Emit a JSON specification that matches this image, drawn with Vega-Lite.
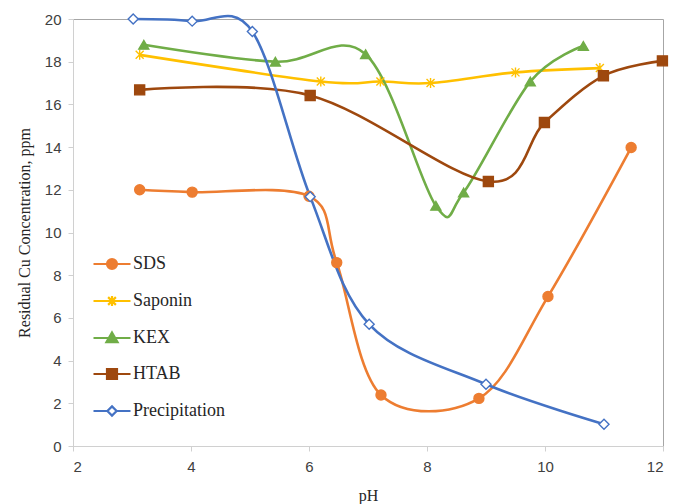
{
  "$schema": "https://vega.github.io/schema/vega-lite/v6.json",
  "autosize": {"type": "none"},
  "padding": {"left": 73, "top": 19, "right": 12, "bottom": 58},
  "width": 590,
  "height": 427,
  "background": "white",
  "config": {
    "view": {"stroke": "#a6a6a6", "strokeWidth": 1},
    "axis": {
      "grid": false,
      "domainColor": "#d0d0d0",
      "tickColor": "#d0d0d0",
      "tickSize": 5,
      "labelFont": "Liberation Sans",
      "labelFontSize": 15,
      "labelColor": "#404040",
      "titleFont": "Liberation Serif",
      "titleFontSize": 16,
      "titleFontWeight": "normal",
      "titleColor": "#262626"
    },
    "legend": {
      "labelFont": "Liberation Serif, serif",
      "labelFontSize": 18,
      "labelColor": "#262626",
      "rowPadding": 7,
      "labelOffset": 1,
      "padding": 0,
      "symbolSize": 1369,
      "symbolStrokeWidth": 2.2
    }
  },
  "data": {
    "values": [
      {"series": "SDS", "pH": 3.13, "conc": 12.0},
      {"series": "SDS", "pH": 4.02, "conc": 11.89},
      {"series": "SDS", "pH": 6.0, "conc": 11.7},
      {"series": "SDS", "pH": 6.47, "conc": 8.59},
      {"series": "SDS", "pH": 7.22, "conc": 2.39},
      {"series": "SDS", "pH": 8.88, "conc": 2.23},
      {"series": "SDS", "pH": 10.05, "conc": 7.0},
      {"series": "SDS", "pH": 11.46, "conc": 13.98},
      {"series": "Saponin", "pH": 3.13, "conc": 18.32},
      {"series": "Saponin", "pH": 6.2, "conc": 17.07},
      {"series": "Saponin", "pH": 7.21, "conc": 17.07},
      {"series": "Saponin", "pH": 8.06, "conc": 17.0},
      {"series": "Saponin", "pH": 9.5, "conc": 17.5},
      {"series": "Saponin", "pH": 10.93, "conc": 17.7},
      {"series": "KEX", "pH": 3.2, "conc": 18.79},
      {"series": "KEX", "pH": 5.43, "conc": 18.0},
      {"series": "KEX", "pH": 6.96, "conc": 18.35},
      {"series": "KEX", "pH": 8.15, "conc": 11.25},
      {"series": "KEX", "pH": 8.62, "conc": 11.87},
      {"series": "KEX", "pH": 9.75, "conc": 17.07},
      {"series": "KEX", "pH": 10.65, "conc": 18.74},
      {"series": "HTAB", "pH": 3.13, "conc": 16.68},
      {"series": "HTAB", "pH": 6.02, "conc": 16.42},
      {"series": "HTAB", "pH": 9.04, "conc": 12.39},
      {"series": "HTAB", "pH": 9.99, "conc": 15.15},
      {"series": "HTAB", "pH": 10.99, "conc": 17.34},
      {"series": "HTAB", "pH": 11.99, "conc": 18.04},
      {"series": "Precipitation", "pH": 3.02, "conc": 20.0},
      {"series": "Precipitation", "pH": 4.02, "conc": 19.9},
      {"series": "Precipitation", "pH": 5.04, "conc": 19.41},
      {"series": "Precipitation", "pH": 6.02, "conc": 11.68},
      {"series": "Precipitation", "pH": 7.02, "conc": 5.7},
      {"series": "Precipitation", "pH": 9.0, "conc": 2.89},
      {"series": "Precipitation", "pH": 11.0, "conc": 1.02}
    ]
  },
  "resolve": {"scale": {"shape": "independent", "fill": "independent", "stroke": "independent"}},
  "layer": [
    {
      "mark": {"type": "line", "interpolate": "cardinal", "strokeWidth": 2.6},
      "encoding": {
        "x": {"field": "pH", "type": "quantitative", "scale": {"domain": [2, 12], "nice": false},
              "axis": {"values": [2, 4, 6, 8, 10, 12], "format": "d", "title": "pH", "labelPadding": 8, "titlePadding": 13,
                       "labelFont": "Liberation Sans", "labelFontSize": 15, "labelColor": "#404040"}},
        "y": {"field": "conc", "type": "quantitative", "scale": {"domain": [0, 20], "nice": false},
              "axis": {"values": [0, 2, 4, 6, 8, 10, 12, 14, 16, 18, 20], "format": "d", "title": "Residual Cu Concentration, ppm", "labelPadding": 7, "titlePadding": 12,
                       "labelFont": "Liberation Sans", "labelFontSize": 15, "labelColor": "#404040"}},
        "color": {"field": "series", "type": "nominal",
                  "scale": {"domain": ["SDS", "Saponin", "KEX", "HTAB", "Precipitation"],
                            "range": ["#ED7D31", "#FFC000", "#70AD47", "#9E480E", "#4472C4"]},
                  "legend": null}
      }
    },
    {
      "mark": {"type": "point", "opacity": 1, "size": 100, "strokeWidth": 1.4},
      "encoding": {
        "x": {"field": "pH", "type": "quantitative"},
        "y": {"field": "conc", "type": "quantitative"},
        "shape": {"field": "series", "type": "nominal",
                  "scale": {"domain": ["SDS", "Saponin", "KEX", "HTAB", "Precipitation"],
                            "range": ["circle", "M0,-1L0,1M-0.8,-0.8L0.8,0.8M-0.8,0.8L0.8,-0.8", "triangle-up", "square", "diamond"]},
                  "legend": null},
        "fill": {"field": "series", "type": "nominal",
                 "scale": {"domain": ["SDS", "Saponin", "KEX", "HTAB", "Precipitation"],
                           "range": ["#ED7D31", "#FFC000", "#70AD47", "#9E480E", "#ffffff"]},
                 "legend": null},
        "stroke": {"field": "series", "type": "nominal",
                   "scale": {"domain": ["SDS", "Saponin", "KEX", "HTAB", "Precipitation"],
                             "range": ["#ED7D31", "#FFC000", "#70AD47", "#9E480E", "#4472C4"]},
                   "legend": null}
      }
    },
    {
      "transform": [{"filter": "false"}],
      "mark": {"type": "point", "opacity": 1, "strokeWidth": 2.2},
      "encoding": {
        "shape": {"field": "series", "type": "nominal",
                  "scale": {"domain": ["SDS", "Saponin", "KEX", "HTAB", "Precipitation"],
                            "range": [
                              "M-1,0H1M0.27,0A0.27,0.27 0 1,1 -0.27,0A0.27,0.27 0 1,1 0.27,0Z",
                              "M-1,0H1M0,-0.27V0.27M-0.21,-0.21L0.21,0.21M-0.21,0.21L0.21,-0.21",
                              "M-1,0H1M0,-0.3L0.3,0.22H-0.3Z",
                              "M-1,0H1M-0.27,-0.27H0.27V0.27H-0.27Z",
                              "M-1,0H-0.25M0.25,0H1M0,-0.25L0.25,0L0,0.25L-0.25,0Z"
                            ]},
                  "legend": {"orient": "none", "legendX": 19, "legendY": 225, "title": null, "padding": 0,
                             "symbolSize": 1369, "rowPadding": 7, "labelOffset": 1,
                             "labelFont": "Liberation Serif, serif", "labelFontSize": 18, "labelColor": "#262626", "symbolStrokeWidth": 2.2,
                             "encode": {"labels": {"update": {"font": {"value": "Liberation Serif"}}}}}},
        "fill": {"field": "series", "type": "nominal",
                 "scale": {"domain": ["SDS", "Saponin", "KEX", "HTAB", "Precipitation"],
                           "range": ["#ED7D31", "#FFC000", "#70AD47", "#9E480E", "#ffffff"]},
                 "legend": {"orient": "none", "legendX": 19, "legendY": 225, "title": null, "padding": 0,
                            "symbolSize": 1369, "rowPadding": 7, "labelOffset": 1,
                            "labelFont": "Liberation Serif, serif", "labelFontSize": 18, "labelColor": "#262626", "symbolStrokeWidth": 2.2,
                            "encode": {"labels": {"update": {"font": {"value": "Liberation Serif"}}}}}},
        "stroke": {"field": "series", "type": "nominal",
                   "scale": {"domain": ["SDS", "Saponin", "KEX", "HTAB", "Precipitation"],
                             "range": ["#ED7D31", "#FFC000", "#70AD47", "#9E480E", "#4472C4"]},
                   "legend": {"orient": "none", "legendX": 19, "legendY": 225, "title": null, "padding": 0,
                              "symbolSize": 1369, "rowPadding": 7, "labelOffset": 1,
                              "labelFont": "Liberation Serif, serif", "labelFontSize": 18, "labelColor": "#262626", "symbolStrokeWidth": 2.2,
                              "encode": {"labels": {"update": {"font": {"value": "Liberation Serif"}}}}}}
      }
    }
  ]
}
